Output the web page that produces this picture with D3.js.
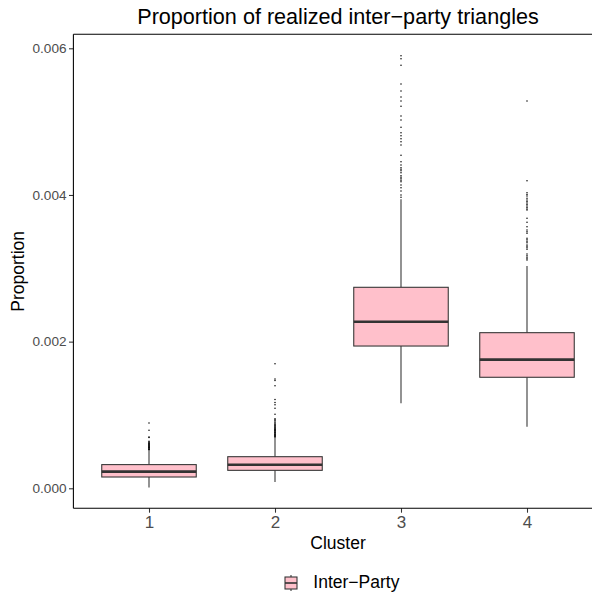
<!DOCTYPE html>
<html>
<head>
<meta charset="utf-8">
<script src="https://cdn.jsdelivr.net/npm/d3@7"></script>
<style>
  html, body { margin: 0; padding: 0; background: #fff; }
  svg { display: block; }
  text { font-family: "Liberation Sans", Arial, sans-serif; }
</style>
</head>
<body>
<svg id="chart" width="592" height="595"></svg>
<script>
// Boxplot summaries per cluster
const clusters = ["1", "2", "3", "4"];
const lowerWhisker = [0.00001, 0.000086, 0.00116, 0.00084];
const q1 = [0.000154, 0.000245, 0.00194, 0.001514];
const medians = [0.000228, 0.000322, 0.002272, 0.001754];
const q3 = [0.000323, 0.000431, 0.002741, 0.002122];
const upperWhisker = [0.000518, 0.000695, 0.00394, 0.00303];

// Outlying observations per cluster
const outliers1 = [0.000525, 0.00053, 0.000535, 0.00054, 0.000548, 0.000555, 0.00056, 0.000568,
  0.000575, 0.00058, 0.000588, 0.000595, 0.0006, 0.000608, 0.000615, 0.00062, 0.00063, 0.00064,
  0.000692, 0.0007, 0.00079, 0.00089];
const outliers2 = [0.0007, 0.000705, 0.000712, 0.00072, 0.000728, 0.000735, 0.000742, 0.00075,
  0.000758, 0.000765, 0.000772, 0.00078, 0.000788, 0.000795, 0.000802, 0.00081, 0.000818, 0.000825,
  0.000835, 0.000845, 0.000855, 0.000865, 0.000878, 0.00089, 0.000905, 0.00092, 0.000935, 0.00095,
  0.00101, 0.00109, 0.00114, 0.00117, 0.00121, 0.0014, 0.00147, 0.00149, 0.0017];
const outliers3 = [0.00397, 0.004, 0.004054, 0.004099, 0.004136, 0.004181, 0.0042, 0.00422,
  0.00424, 0.004263, 0.004304, 0.00433, 0.00435, 0.004372, 0.004409, 0.004454, 0.004541, 0.004681,
  0.004726, 0.004767, 0.004808, 0.004849, 0.004923, 0.005022, 0.005077, 0.005209, 0.005281,
  0.005336, 0.005418, 0.005513, 0.005768, 0.005858, 0.005899];
const outliers4 = [0.003113, 0.00313, 0.00315, 0.00317, 0.003195, 0.003259, 0.00328, 0.0033,
  0.003318, 0.003349, 0.00337, 0.00339, 0.003409, 0.003477, 0.0035, 0.003522, 0.003567, 0.003627,
  0.003682, 0.003795, 0.00381, 0.00383, 0.00385, 0.00387, 0.00389, 0.00391, 0.00393, 0.003955,
  0.003986, 0.004005, 0.004031, 0.004195, 0.005281];
const outlierSets = [outliers1, outliers2, outliers3, outliers4];

const yTicks = [0.000, 0.002, 0.004, 0.006];
const legendLabel = "Inter\u2212Party";

const boxes = clusters.map((c, i) => ({
  cluster: c,
  lo: lowerWhisker[i], q1: q1[i], med: medians[i], q3: q3[i], hi: upperWhisker[i],
  out: outlierSets[i]
}));

// Layout
const panel = { left: 73.4, right: 602.6, top: 34.3, bottom: 508.3 };
const fill = "#FFC0CB";
const ink = "#333333";

const svg = d3.select("#chart");

// Discrete axis: categories one unit apart, 0.6 unit expansion on each side
const unit = (panel.right - panel.left) / (clusters.length - 1 + 1.2);
const xc = d3.scalePoint().domain(clusters).range([panel.left + 0.6 * unit, panel.right - 0.6 * unit]);
const boxW = 0.75 * unit;

const y = d3.scaleLinear()
  .domain([0, 0.006])
  .range([488.3, 48.3]);

// Title
svg.append("text")
  .attr("x", (panel.left + panel.right) / 2)
  .attr("y", 24)
  .attr("text-anchor", "middle")
  .attr("font-size", 21.6)
  .attr("fill", "#000")
  .text("Proportion of realized inter\u2212party triangles");

const g = svg.append("g");

// Boxes
const bg = g.selectAll("g.box").data(boxes).join("g").attr("class", "box");

bg.append("line")
  .attr("x1", d => xc(d.cluster)).attr("x2", d => xc(d.cluster))
  .attr("y1", d => y(d.q3)).attr("y2", d => y(d.hi))
  .attr("stroke", ink).attr("stroke-width", 1.07);
bg.append("line")
  .attr("x1", d => xc(d.cluster)).attr("x2", d => xc(d.cluster))
  .attr("y1", d => y(d.q1)).attr("y2", d => y(d.lo))
  .attr("stroke", ink).attr("stroke-width", 1.07);

bg.append("rect")
  .attr("x", d => xc(d.cluster) - boxW / 2)
  .attr("width", boxW)
  .attr("y", d => y(d.q3))
  .attr("height", d => y(d.q1) - y(d.q3))
  .attr("fill", fill)
  .attr("stroke", ink).attr("stroke-width", 1.07);

bg.append("line")
  .attr("x1", d => xc(d.cluster) - boxW / 2).attr("x2", d => xc(d.cluster) + boxW / 2)
  .attr("y1", d => y(d.med)).attr("y2", d => y(d.med))
  .attr("stroke", ink).attr("stroke-width", 2.6);

bg.selectAll("circle")
  .data(d => d.out.map(v => ({ cluster: d.cluster, v })))
  .join("circle")
  .attr("cx", d => xc(d.cluster))
  .attr("cy", d => y(d.v))
  .attr("r", 0.75)
  .attr("fill", "#000");

// Axes
const yAxis = d3.axisLeft(y).tickValues(yTicks).tickFormat(d3.format(".3f")).tickSize(4.4).tickPadding(2.5);
const ya = svg.append("g").attr("transform", `translate(${panel.left},0)`).call(yAxis);
ya.select(".domain").remove();
ya.selectAll(".tick line").attr("stroke", ink).attr("stroke-width", 1.07);
ya.selectAll(".tick text").attr("fill", "#4D4D4D").attr("font-size", 13.6)
  .attr("font-family", "Liberation Sans, Arial, sans-serif");

const xAxis = d3.axisBottom(xc).tickSize(4.4).tickPadding(3);
const xa = svg.append("g").attr("transform", `translate(0,${panel.bottom})`).call(xAxis);
xa.select(".domain").remove();
xa.selectAll(".tick line").attr("stroke", ink).attr("stroke-width", 1.07);
xa.selectAll(".tick text").attr("fill", "#4D4D4D").attr("font-size", 17)
  .attr("font-family", "Liberation Sans, Arial, sans-serif");

// Axis lines (left, bottom) and top border
svg.append("line").attr("x1", panel.left).attr("x2", panel.left)
  .attr("y1", panel.top).attr("y2", panel.bottom).attr("stroke", "#000").attr("stroke-width", 1.07);
svg.append("line").attr("x1", panel.left).attr("x2", panel.right)
  .attr("y1", panel.bottom).attr("y2", panel.bottom).attr("stroke", "#000").attr("stroke-width", 1.07);
svg.append("line").attr("x1", panel.left).attr("x2", panel.right)
  .attr("y1", panel.top).attr("y2", panel.top).attr("stroke", "#000").attr("stroke-width", 1.07);

// Axis titles
svg.append("text")
  .attr("x", (panel.left + panel.right) / 2)
  .attr("y", 548.5)
  .attr("text-anchor", "middle")
  .attr("font-size", 17.5)
  .attr("fill", "#000")
  .text("Cluster");

svg.append("text")
  .attr("transform", `translate(24,${(panel.top + panel.bottom) / 2}) rotate(-90)`)
  .attr("text-anchor", "middle")
  .attr("font-size", 17.5)
  .attr("fill", "#000")
  .text("Proportion");

// Legend key: small boxplot glyph
const lg = svg.append("g").attr("transform", "translate(285,575)");
const kw = 12, kh = 16;
lg.append("line").attr("x1", kw / 2).attr("x2", kw / 2).attr("y1", 0).attr("y2", 2)
  .attr("stroke", ink).attr("stroke-width", 1.07);
lg.append("line").attr("x1", kw / 2).attr("x2", kw / 2).attr("y1", kh - 2).attr("y2", kh)
  .attr("stroke", ink).attr("stroke-width", 1.07);
lg.append("rect").attr("x", 0).attr("y", 2).attr("width", kw).attr("height", kh - 4)
  .attr("fill", fill).attr("stroke", ink).attr("stroke-width", 1.07);
lg.append("line").attr("x1", 0).attr("x2", kw).attr("y1", kh / 2).attr("y2", kh / 2)
  .attr("stroke", ink).attr("stroke-width", 1.6);
lg.append("text")
  .attr("x", 28.3)
  .attr("y", 12.5)
  .attr("font-size", 17.5)
  .attr("fill", "#000")
  .text(legendLabel);
</script>
</body>
</html>
